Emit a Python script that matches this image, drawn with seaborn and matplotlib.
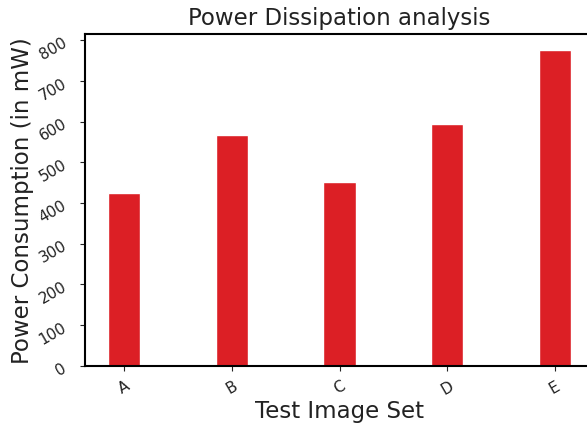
import matplotlib
matplotlib.use("Agg")
import matplotlib.pyplot as plt
import seaborn as sns
import pandas as pd

# -------------------------------------------------------
# Data
# -------------------------------------------------------

image_sets = ["A", "B", "C", "D", "E"]
power_mw = [424, 566, 451, 595, 776]

df = pd.DataFrame({
    "Test Image Set": image_sets,
    "Power": power_mw
})

sns.set_style("ticks")
plt.rcParams["font.family"] = ["DejaVu Sans"]

fig = plt.figure(figsize=(5.87, 4.31), dpi=100)

# axes runs a bit past the right edge, like the cropped original
ax = fig.add_axes([85 / 587, (431 - 366.7) / 431, 509 / 587, (366.7 - 35) / 431])

sns.barplot(
    data=df,
    x="Test Image Set",
    y="Power",
    color="#dc1f25",
    saturation=1,
    width=0.3,
    ax=ax
)

ax.set_xlim(-0.365, 4.365)
ax.set_ylim(0, 815)

ax.set_title("Power Dissipation analysis", fontsize=16.5, color="#222222", pad=7)
ax.set_xlabel("Test Image Set", fontsize=16.5, color="#222222", labelpad=2)
ax.set_ylabel("Power Consumption (in mW)", fontsize=16.5, color="#222222", labelpad=2)

ax.tick_params(axis="x", labelsize=11, colors="#222222", pad=5)
ax.tick_params(axis="y", labelsize=11, colors="#222222", pad=8)
plt.setp(ax.get_xticklabels(), rotation=30)
plt.setp(ax.get_yticklabels(), rotation=30)

for side in ["left", "bottom", "top"]:
    ax.spines[side].set_visible(True)
    ax.spines[side].set_linewidth(1.5)
    ax.spines[side].set_color("black")
ax.spines["right"].set_visible(False)

fig.savefig("out.png", dpi=100)
plt.close()
